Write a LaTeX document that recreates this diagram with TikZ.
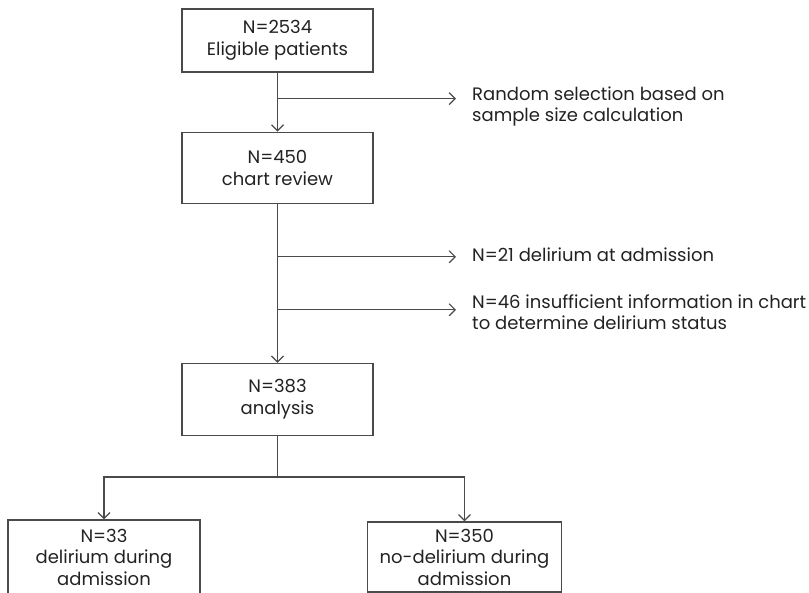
\documentclass[tikz,border=0pt]{standalone}
\usepackage{fontspec}
\setmainfont{Poppins}
\usetikzlibrary{arrows.meta,positioning}
\usetikzlibrary{calc}
\definecolor{linegray}{HTML}{4A4A4A}
\definecolor{textgray}{HTML}{222222}

\begin{document}
\begin{tikzpicture}[
      x=1pt, y=-1pt,
      mybox/.style={
         rectangle,
         draw=linegray,
         line width=1.2pt,
         text=textgray,
         minimum width=191pt,
         inner sep=0pt,
         align=center,
         font=\fontsize{18}{22}\selectfont},
      outbox/.style={
         mybox,
         font=\fontsize{18}{21.5}\selectfont},
      mynote/.style={
         anchor=west,
         align=left,
         inner sep=0pt,
         text=textgray,
         font=\fontsize{18}{21}\selectfont},
      myarrow/.style={-{Straight Barb[length=6pt,width=12pt]},draw=linegray,line width=1.2pt},
      myline/.style={draw=linegray,line width=1.2pt}
      ]
      \useasboundingbox (0,0) rectangle (809,593);
      \clip (0,0) rectangle (809,593);

      % main column
      \node[mybox,minimum height=63pt] (b1) at (277.5,40.5) {N=2534\\Eligible patients};
      \node[mybox,minimum height=71pt,below=59pt of b1] (b2) {N=450\\chart review};
      \node[mybox,minimum height=72pt,below=159pt of b2] (b3) {N=383\\analysis};

      % outcome boxes
      \node[outbox,minimum width=192pt,minimum height=74pt] (d1) at (104,557) {N=33\\delirium during\\admission};
      \node[outbox,minimum width=194pt,minimum height=70pt] (d2) at (464.5,557) {N=350\\no-delirium during\\admission};

      % side notes
      \node[mynote] (sel) at (472,106) {Random selection based on\\sample size calculation};
      \node[mynote] (adm) at (472,255) {N=21 delirium at admission};
      \node[mynote] (ins) at (472,312) {N=46 insufficient information in chart\\to determine delirium status};

      \coordinate (s1) at ($(b1.south)+(0,26)$);
      \coordinate (s2) at ($(b2.south)+(0,53)$);
      \coordinate (s3) at ($(b2.south)+(0,106)$);
      \coordinate (sp) at ($(b3.south)+(0,41)$);

      \draw[myarrow] (b1) -- (b2);
      \draw[myarrow] (b2) -- (b3);

    \foreach \s/\t in {s1/sel, s2/adm, s3/ins}
       \draw[myarrow,shorten >=16pt] (\s) -- (\s -| \t.west);

      \draw[myline] (b3) -- (sp);
      \draw[myarrow] (sp) -| (d1);
      \draw[myarrow] (sp) -| (d2);

    \end{tikzpicture}
\end{document}
